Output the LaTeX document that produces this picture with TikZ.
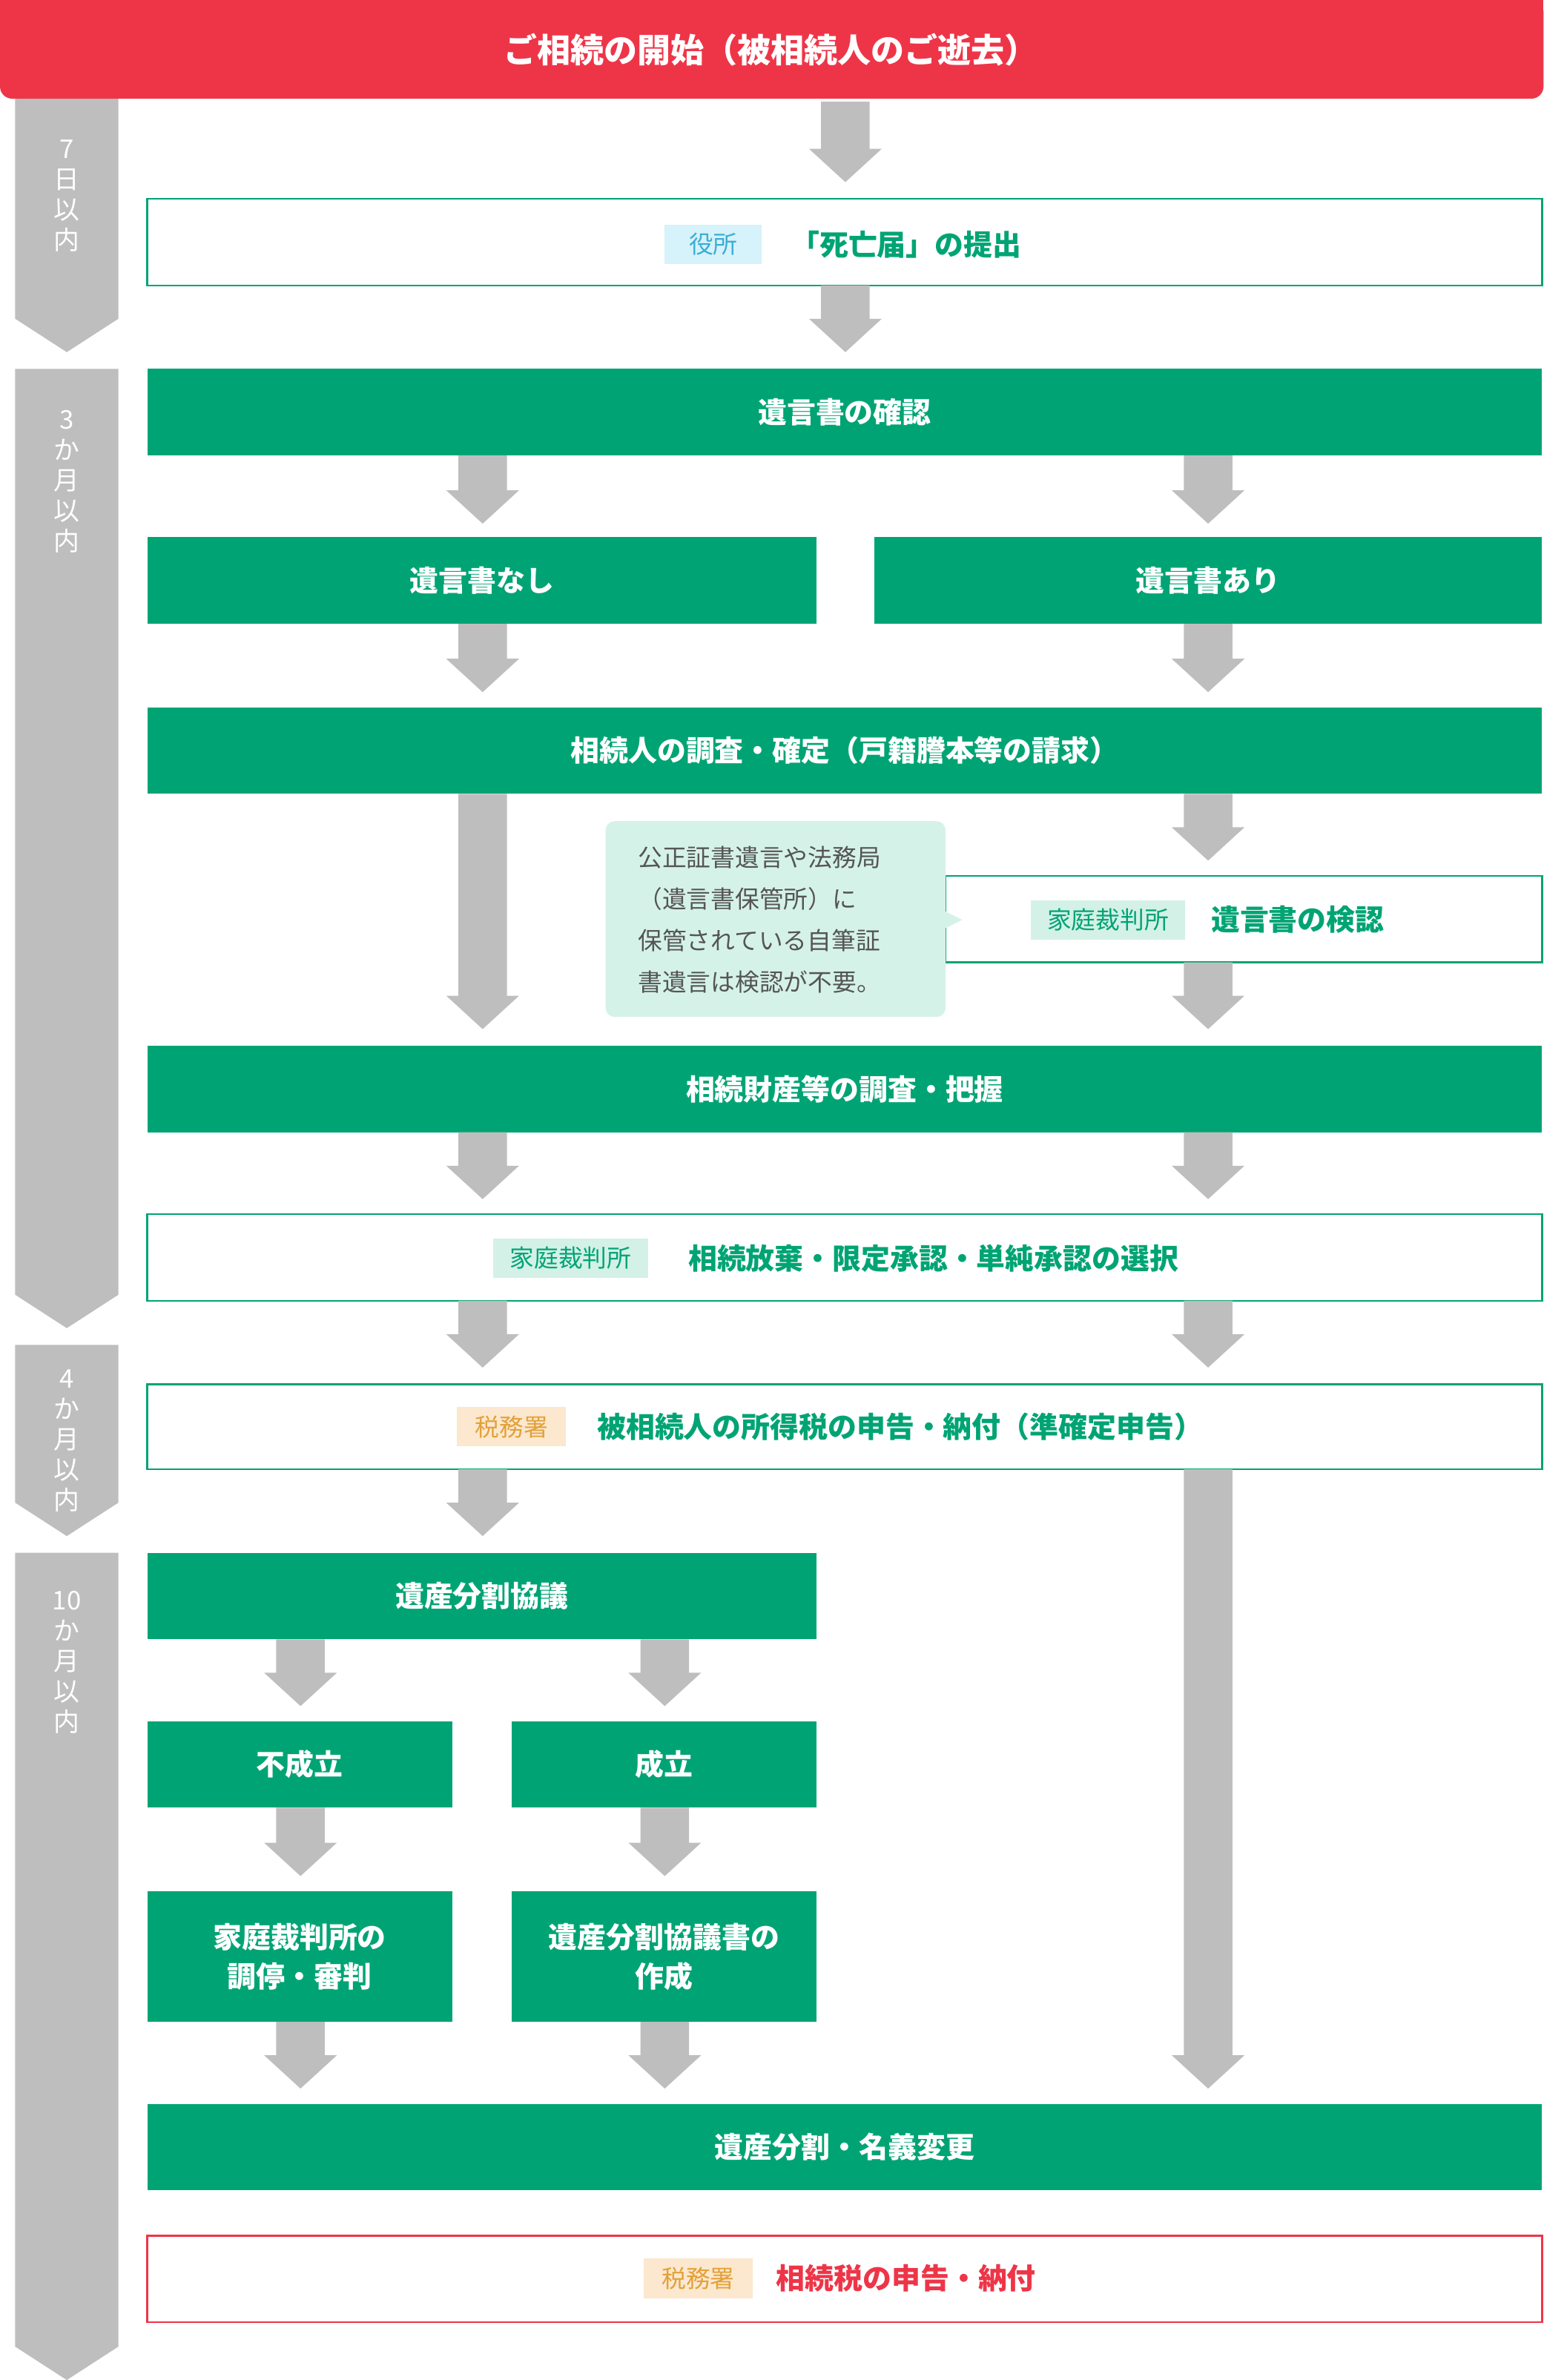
\documentclass[tikz,border=0pt]{standalone}
\usepackage{fontspec}
\setmainfont{Noto Sans CJK JP}
\newfontfamily\jpb{Noto Sans CJK JP}[BoldFont={* Bold}]
\usetikzlibrary{calc}
\definecolor{cred}{HTML}{EE3548}
\definecolor{cgreen}{HTML}{00A474}
\definecolor{cgray}{HTML}{BEBEBE}
\definecolor{tblue}{HTML}{D6F2FA}
\definecolor{tbluet}{HTML}{3BAED6}
\definecolor{tgreen}{HTML}{D4F1E7}
\definecolor{torange}{HTML}{FBE8CE}
\definecolor{torant}{HTML}{E3A13A}
\definecolor{notebg}{HTML}{D5F2E9}
\definecolor{notetx}{HTML}{555555}
\tikzset{
 x=0.5pt,y=-0.5pt,
 lbl/.style={font=\fontsize{9.5pt}{12pt}\bfseries\selectfont,align=center,inner sep=0},
 wl/.style={lbl,text=white},
 gl/.style={lbl,text=cgreen},
 tag/.style={font=\fontsize{8pt}{10pt}\selectfont,inner sep=0,minimum height=13pt,minimum width=#1},
 side/.style={font=\fontsize{8.5pt}{10pt}\selectfont,text=white,align=center,inner sep=0,anchor=north},
}
\newcommand{\garr}[3]{\fill[cgray] (#1-16,#2)--(#1+16,#2)--(#1+16,#3-22)--(#1+24,#3-22)--(#1,#3)--(#1-24,#3-22)--(#1-16,#3-22)--cycle;}
\newcommand{\tline}[2]{\fill[cgray] (10,#1)--(78,#1)--(78,#2-22)--(44,#2)--(10,#2-22)--cycle;}
\newcommand{\gbar}[6]{\fill[cgreen] (#2,#3) rectangle (#4,#5); \node[wl] (#1) at ($(#2,#3)!0.5!(#4,#5)$) {#6};}
\newcommand{\wbox}[6]{\draw[#6,line width=0.6pt,fill=white] (#2,#3) rectangle (#4,#5); \coordinate (#1) at ($(#2,#3)!0.5!(#4,#5)$);}
\begin{document}
\begin{tikzpicture}
\useasboundingbox (0,0) rectangle (1017,1568);
% timeline
\tline{65}{232}\tline{243}{875}\tline{886}{1012}\tline{1023}{1568}
\node[side] (s1) at (44,92) {7\\日\\以\\内};
\node[side] (s2) at (44,270) {3\\か\\月\\以\\内};
\node[side] (s3) at (44,902) {4\\か\\月\\以\\内};
\node[side] (s4) at (44,1048) {10\\か\\月\\以\\内};
% top
\fill[cred,rounded corners=4pt] (0,0) rectangle (1017,65);
\fill[cred] (0,0) rectangle (1017,20);
\node[wl,font=\fontsize{11pt}{13pt}\bfseries\selectfont] (start) at (508,33) {ご相続の開始（被相続人のご逝去）};
\garr{557}{67}{120}
\wbox{b1}{97}{131}{1016}{188}{cgreen}
\node[tag=32pt,fill=tblue,text=tbluet] (t1) at (470,161) {役所};
\node[gl] at (597,161) {「死亡届」の提出};
\garr{557}{188}{232}
\gbar{b2}{97}{243}{1016}{300}{遺言書の確認}
\garr{318}{300}{345}\garr{796}{300}{345}
\gbar{b3}{97}{354}{538}{411}{遺言書なし}
\gbar{b4}{576}{354}{1016}{411}{遺言書あり}
\garr{318}{411}{456}\garr{796}{411}{456}
\gbar{b5}{97}{466}{1016}{523}{相続人の調査・確定（戸籍謄本等の請求）}
\garr{318}{523}{678}\garr{796}{523}{567}
\wbox{b6}{623}{577}{1016}{634}{cgreen}
\node[tag=51pt,fill=tgreen,text=cgreen] at (730,606) {家庭裁判所};
\node[gl] at (855,606) {遺言書の検認};
\fill[notebg,rounded corners=3pt] (399,541) rectangle (623,670);
\fill[notebg] (622,600)--(634,606)--(622,612)--cycle;
\node[font=\fontsize{8pt}{13.7pt}\selectfont,text=notetx,align=left,anchor=west,inner sep=0] (note) at (420,606) {公正証書遺言や法務局\\（遺言書保管所）に\\保管されている自筆証\\書遺言は検認が不要。};
\garr{796}{634}{678}
\gbar{b7}{97}{689}{1016}{746}{相続財産等の調査・把握}
\garr{318}{746}{790}\garr{796}{746}{790}
\wbox{b8}{97}{800}{1016}{857}{cgreen}
\node[tag=51pt,fill=tgreen,text=cgreen] at (376,829) {家庭裁判所};
\node[gl] at (615,829) {相続放棄・限定承認・単純承認の選択};
\garr{318}{857}{901}\garr{796}{857}{901}
\wbox{b9}{97}{912}{1016}{968}{cgreen}
\node[tag=36pt,fill=torange,text=torant] at (337,940) {税務署};
\node[gl] at (593,940) {被相続人の所得税の申告・納付（準確定申告）};
\garr{318}{968}{1012}\garr{796}{968}{1376}
\gbar{b10}{97}{1023}{538}{1080}{遺産分割協議}
\garr{198}{1080}{1124}\garr{438}{1080}{1124}
\gbar{b11}{97}{1134}{298}{1191}{不成立}
\gbar{b12}{337}{1134}{538}{1191}{成立}
\garr{198}{1191}{1236}\garr{438}{1191}{1236}
\gbar{b13}{97}{1246}{298}{1332}{家庭裁判所の\\[1pt]調停・審判}
\gbar{b14}{337}{1246}{538}{1332}{遺産分割協議書の\\[1pt]作成}
\garr{198}{1332}{1376}\garr{438}{1332}{1376}
\gbar{b15}{97}{1386}{1016}{1443}{遺産分割・名義変更}
\wbox{b16}{97}{1473}{1016}{1530}{cred}
\node[tag=36pt,fill=torange,text=torant] at (460,1501) {税務署};
\node[lbl,text=cred] at (597,1501) {相続税の申告・納付};
\end{tikzpicture}
\end{document}
